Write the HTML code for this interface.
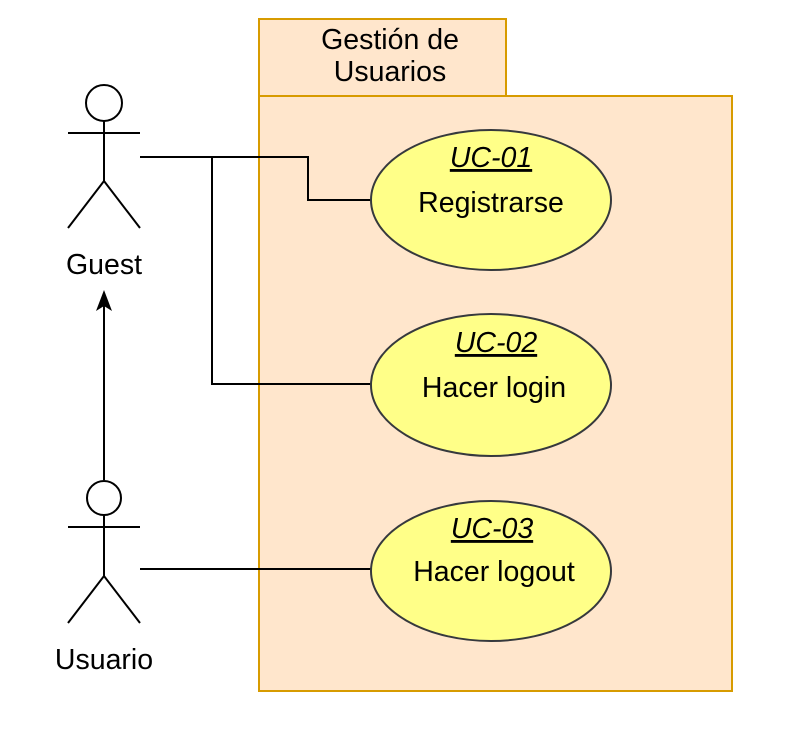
<!DOCTYPE html>
<html><head><meta charset="utf-8"><style>html,body{margin:0;padding:0;background:#fff}svg{display:block}</style></head>
<body>
<svg width="798" height="731" viewBox="0 0 798 731" xmlns="http://www.w3.org/2000/svg" font-family="Liberation Sans, Arial, sans-serif">
<rect x="259" y="19" width="247" height="77" fill="#ffe6cc" stroke="#d79b00" stroke-width="2"/>
<rect x="259" y="96" width="473" height="595" fill="#ffe6cc" stroke="#d79b00" stroke-width="2"/>
<g font-size="28.5" text-anchor="middle">
<text x="390" y="49">Gestión de</text>
<text x="390" y="81">Usuarios</text>
</g>
<g fill="none" stroke="#000" stroke-width="2">
<polyline points="140,157 308,157 308,200 371,200"/>
<polyline points="212,157 212,384 371,384"/>
<line x1="140" y1="569" x2="371" y2="569"/>
<line x1="104" y1="480" x2="104" y2="306"/>
<circle cx="104" cy="103" r="18"/>
<line x1="104" y1="121" x2="104" y2="181"/>
<line x1="68" y1="133" x2="140" y2="133"/>
<polyline points="68,228 104,181 140,228"/>
<circle cx="104" cy="498" r="17"/>
<line x1="104" y1="515" x2="104" y2="576"/>
<line x1="68" y1="527" x2="140" y2="527"/>
<polyline points="68,623 104,576 140,623"/>
</g>
<polygon points="104,290 96,311 104,306 112,311" fill="#000"/>
<g font-size="28.5" text-anchor="middle">
<text x="104" y="274">Guest</text>
<text x="104" y="669">Usuario</text>
</g>
<g fill="#ffff88" stroke="#36393d" stroke-width="2">
<ellipse cx="491" cy="200" rx="120" ry="70"/>
<ellipse cx="491" cy="385" rx="120" ry="71"/>
<ellipse cx="491" cy="571" rx="120" ry="70"/>
</g>
<g font-size="28.5" text-anchor="middle">
<text x="491" y="167" font-style="italic" text-decoration="underline">UC-01</text>
<text x="491" y="212">Registrarse</text>
<text x="496" y="352" font-style="italic" text-decoration="underline">UC-02</text>
<text x="494" y="397">Hacer login</text>
<text x="492" y="538" font-style="italic" text-decoration="underline">UC-03</text>
<text x="494" y="581">Hacer logout</text>
</g>
</svg>
</body></html>
